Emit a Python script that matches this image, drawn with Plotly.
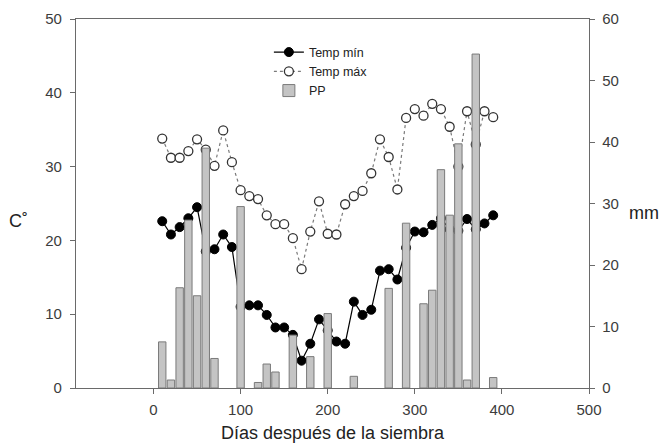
import plotly.graph_objects as go

# ---- data ----
days = [10, 20, 30, 40, 50, 60, 70, 80, 90, 100, 110, 120, 130, 140, 150, 160, 170, 180, 190, 200,
        210, 220, 230, 240, 250, 260, 270, 280, 290, 300, 310, 320, 330, 340, 350, 360, 370, 380, 390]
temp_min = [22.6, 20.8, 21.8, 23.0, 24.5, 18.5, 18.8, 20.8, 19.1, 11.0, 11.2, 11.2, 9.9, 8.2, 8.2, 7.2, 3.7, 6.0, 9.3, 7.8,
            6.3, 6.0, 11.7, 9.9, 10.6, 15.9, 16.1, 14.7, 19.0, 21.2, 21.1, 22.1, 23.0, 21.5, 21.3, 22.9, 21.5, 22.3, 23.4]
temp_max = [33.8, 31.2, 31.2, 32.1, 33.7, 32.3, 30.1, 34.9, 30.6, 26.8, 26.0, 25.6, 23.4, 22.2, 22.2, 20.3, 16.1, 21.2, 25.3, 20.9,
            20.8, 24.9, 26.0, 26.7, 29.1, 33.7, 31.3, 26.9, 36.6, 37.8, 36.9, 38.5, 37.8, 35.4, 30.0, 37.5, 33.0, 37.5, 36.7]
pp_days = [10, 20, 30, 40, 50, 60, 70, 100, 120, 130, 140, 160, 180, 200, 230, 270, 290, 310, 320, 330, 340, 350, 360, 370, 390]
pp = [7.5, 1.3, 16.3, 27.3, 15.0, 39.0, 4.8, 29.5, 0.9, 3.9, 2.6, 8.6, 5.1, 12.1, 1.9, 16.2, 26.8, 13.7, 15.9, 35.5, 28.1, 39.7, 1.3, 54.3, 1.7]

x_ticks = [0, 100, 200, 300, 400, 500]
y_ticks = [0, 10, 20, 30, 40, 50]
y2_ticks = [0, 10, 20, 30, 40, 50, 60]

FONT = "Liberation Sans, Arial, sans-serif"
AX = "#6a6a6a"
TICKC = "#3c3c3c"

fig = go.Figure()
fig.add_trace(go.Scatter(
    x=days, y=temp_min, name="Temp mín", mode="lines+markers",
    line=dict(color="black", width=1.2),
    marker=dict(symbol="circle", size=9, color="black", line=dict(color="black", width=1)),
    yaxis="y"))
fig.add_trace(go.Scatter(
    x=days, y=temp_max, name="Temp máx", mode="lines+markers",
    line=dict(color="#7a7a7a", width=1.2, dash="dot"),
    marker=dict(symbol="circle", size=9, color="white", line=dict(color="#333333", width=1.3)),
    yaxis="y"))
fig.add_trace(go.Bar(
    x=pp_days, y=pp, name="PP", width=8.5,
    marker=dict(color="#c4c4c4", line=dict(color="#7a7a7a", width=1)),
    yaxis="y2"))

fig.update_layout(
    width=663, height=443,
    margin=dict(l=76, r=74, t=19, b=55),
    paper_bgcolor="white", plot_bgcolor="white",
    font=dict(family=FONT, color="#222222"),
    showlegend=True,
    legend=dict(x=0.376, y=0.95, xanchor="left", yanchor="top",
                bgcolor="rgba(0,0,0,0)", font=dict(size=12.5, color="#222222"),
                tracegroupgap=0),
    xaxis=dict(range=[-89, 500], tickvals=x_ticks, ticks="outside", ticklen=5,
               tickcolor=AX, showline=True, linecolor=AX, linewidth=1.3, mirror=True,
               showgrid=False, zeroline=False, automargin=False, ticklabelstandoff=3,
               tickfont=dict(size=15, color=TICKC),
               title=dict(text="Días después de la siembra", font=dict(size=18, color="#222222"), standoff=10)),
    yaxis=dict(range=[0, 50], tickvals=y_ticks, ticks="outside", ticklen=5,
               tickcolor=AX, showline=True, linecolor=AX, linewidth=1.3,
               showgrid=False, zeroline=False, automargin=False, ticklabelstandoff=5,
               tickfont=dict(size=15, color=TICKC)),
    yaxis2=dict(range=[0, 60], tickvals=y2_ticks, ticks="outside", ticklen=5,
                tickcolor=AX, showline=True, linecolor=AX, linewidth=1.3,
                overlaying="y", side="right", showgrid=False, zeroline=False, automargin=False,
                ticklabelstandoff=4,
                tickfont=dict(size=15, color=TICKC)),
    annotations=[
        dict(text="C˚", xref="paper", yref="paper", x=-0.1345, y=0.4526, showarrow=False,
             xanchor="left", yanchor="middle", font=dict(size=18, color="#222222")),
        dict(text="mm", xref="paper", yref="paper", x=1.074, y=0.474, showarrow=False,
             xanchor="left", yanchor="middle", font=dict(size=18, color="#222222")),
    ],
)

fig.write_html("out.html", config={"displayModeBar": False},
               post_script="document.body.style.margin='0px';")
